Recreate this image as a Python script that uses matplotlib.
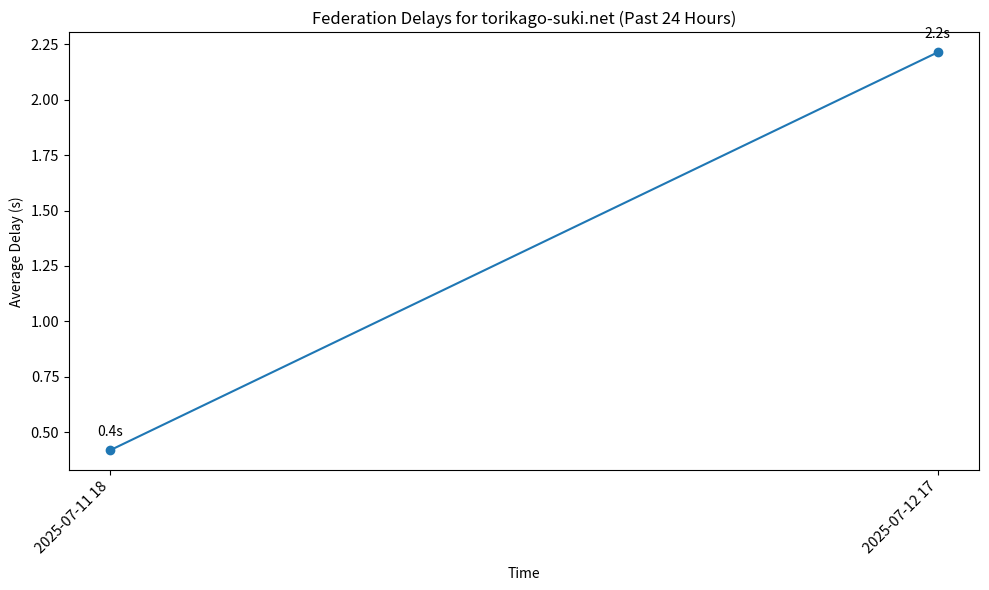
import matplotlib
matplotlib.use('Agg')
import matplotlib.pyplot as plt

plt.rcParams['font.family'] = ['Noto Sans CJK JP', 'DejaVu Sans']

# hourly average delays
hours = ['2025-07-11 18', '2025-07-12 17']
delays = [0.419, 2.214]

fig, ax = plt.subplots(figsize=(9.89, 5.9), dpi=100)
ax.plot(hours, delays, marker='o', color='#1f77b4')

for h, d in zip(hours, delays):
    ax.annotate(f'{d:.1f}s', (h, d), textcoords='offset points',
                xytext=(0, 10), ha='center', fontsize=10)

ax.set_title('Federation Delays for torikago-suki.net (Past 24 Hours)', fontsize=12)
ax.set_xlabel('Time', labelpad=7.5)
ax.set_ylabel('Average Delay (s)', labelpad=5)
plt.xticks(rotation=45, ha='right', fontsize=10.5)
plt.yticks(fontsize=10.5)
fig.subplots_adjust(left=0.0698, right=0.9899, top=0.945, bottom=0.2034)
plt.savefig('out.png', dpi=100)
